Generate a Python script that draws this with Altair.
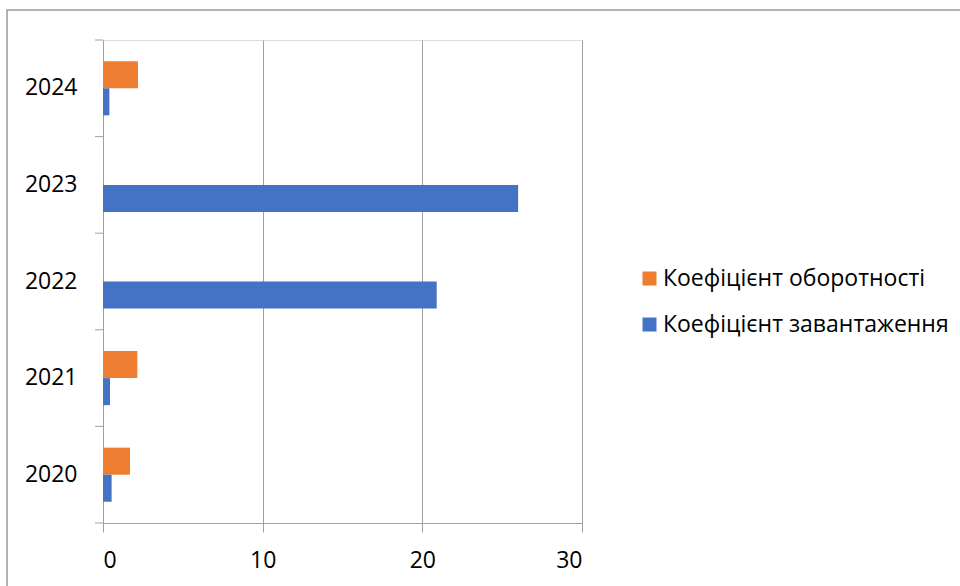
import altair as alt
import pandas as pd

years = ["2020", "2021", "2022", "2023", "2024"]
turnover = [1.69, 2.15, 0.03, 0.03, 2.19]     # Коефіцієнт оборотності
load = [0.54, 0.44, 20.9, 26.0, 0.40]          # Коефіцієнт завантаження
series = ["Коефіцієнт оборотності", "Коефіцієнт завантаження"]
colors = ["#ED7D31", "#4472C4"]
year_order = ["2024", "2023", "2022", "2021", "2020"]
band_edges = [0, 1, 2, 3, 4, 5]

rows = []
for i, y in enumerate(years):
    rows.append({"year": y, "series": series[0], "value": turnover[i]})
    rows.append({"year": y, "series": series[1], "value": load[i]})
df = pd.DataFrame(rows)

FONT = "Open Sans"
GRAY = "#A0A0A0"

bars = alt.Chart(df).mark_bar(stroke=None).encode(
    x=alt.X("value:Q", scale=alt.Scale(domain=[0, 30], nice=False),
            axis=alt.Axis(values=[0, 10, 20, 30], title=None, grid=True, gridColor=GRAY,
                          gridWidth=1, domainColor=GRAY, tickColor=GRAY, tickSize=9,
                          labelFontSize=23, labelFont=FONT, labelColor="#000000",
                          labelPadding=17)),
    y=alt.Y("year:N", sort=year_order,
            scale=alt.Scale(paddingInner=0.44, paddingOuter=0.22),
            axis=alt.Axis(title=None, ticks=False, domainColor=GRAY,
                          labelFontSize=23, labelFont=FONT, labelColor="#000000",
                          labelPadding=26, grid=False)),
    yOffset=alt.YOffset("series:N", sort=series, scale=alt.Scale(paddingInner=0, paddingOuter=0)),
    color=alt.Color("series:N", sort=series,
                    scale=alt.Scale(domain=series, range=colors),
                    legend=alt.Legend(title=None, orient="none", legendX=535, legendY=227,
                                      symbolType="square", symbolSize=196, symbolStrokeWidth=0,
                                      labelFontSize=23, labelFont=FONT, labelColor="#000000",
                                      rowPadding=22, labelOffset=2, labelLimit=400)),
)

ticks = alt.Chart(pd.DataFrame({"edge": band_edges})).mark_rule(
    color=GRAY, strokeWidth=1
).encode(
    y=alt.Y("edge:Q", scale=alt.Scale(domain=[0, 5], nice=False, zero=False), axis=None),
    x=alt.value(-8), x2=alt.value(0),
)

border = alt.Chart(pd.DataFrame({"a": [0]})).mark_rect(
    fill=None, stroke="#9A9A9A", strokeWidth=1.5
).encode(
    x=alt.value(-96), x2=alt.value(900), y=alt.value(-30), y2=alt.value(600)
)

chart = alt.layer(border, bars, ticks).resolve_scale(y="independent").properties(
    width=479, height=483,
    autosize=alt.AutoSizeParams(type="none"),
    padding={"left": 103, "top": 40, "right": 378, "bottom": 63},
).configure_view(stroke=None).configure(background="white")

chart.save("out.html", embed_options={"renderer": "svg", "actions": False})
